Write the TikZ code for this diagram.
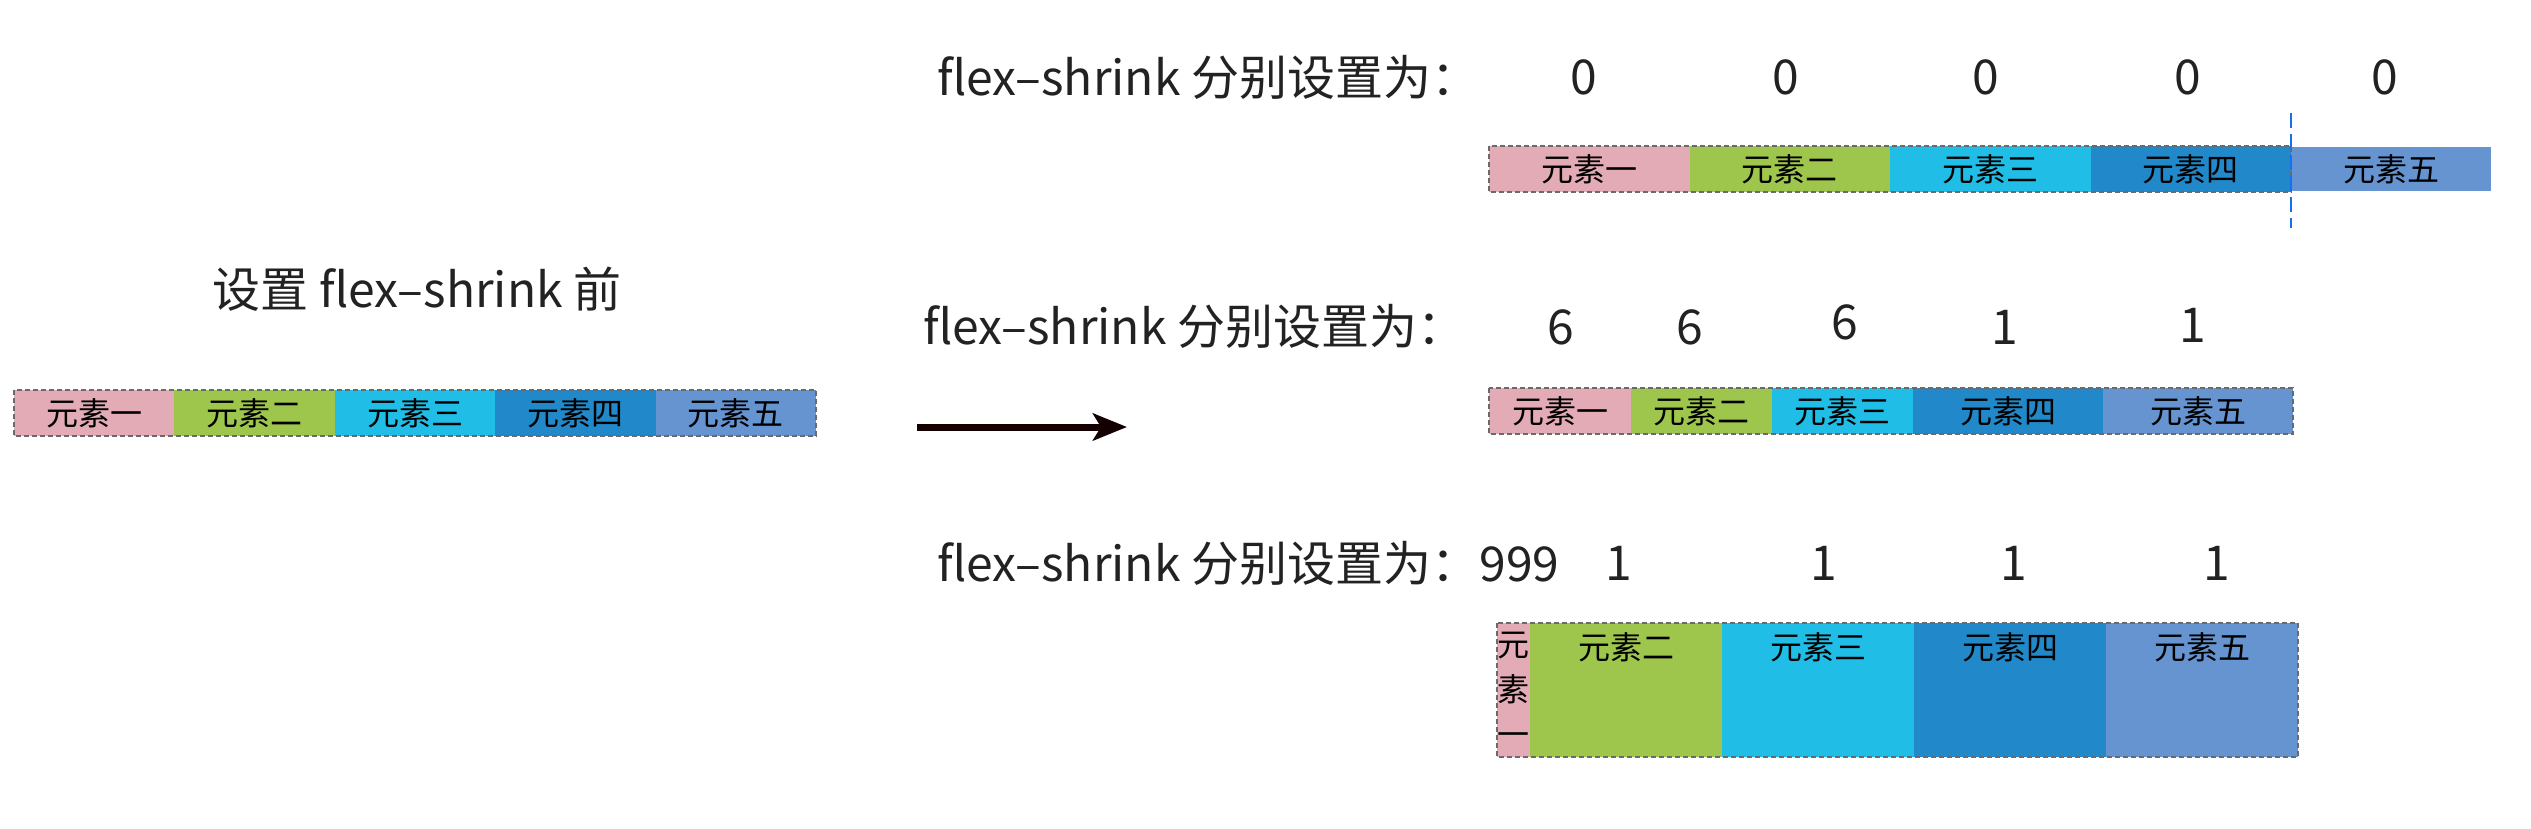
\documentclass[tikz,border=0pt]{standalone}
\usepackage{fontspec}
\setmainfont{Noto Sans CJK SC}
\usetikzlibrary{arrows.meta}
\definecolor{cA}{HTML}{E2ABB5}
\definecolor{cB}{HTML}{9EC54C}
\definecolor{cC}{HTML}{20BEE6}
\definecolor{cD}{HTML}{2189C9}
\definecolor{cE}{HTML}{6594D1}
\definecolor{boxgray}{HTML}{6A6A6A}
\definecolor{labtext}{HTML}{222222}
\definecolor{guide}{HTML}{1670EE}
\definecolor{arrowc}{HTML}{140000}
\tikzset{
  cellbox/.style={inner sep=0pt, outer sep=0pt, minimum height=46pt, font=\fontsize{32}{43}\selectfont, text=black},
  celltext/.style={inner sep=0pt, outer sep=0pt, font=\fontsize{32}{45}\selectfont, text=black, align=center},
  lab/.style={inner sep=0pt, outer sep=0pt, font=\fontsize{48}{57}\selectfont, text=labtext},
  num/.style={inner sep=0pt, outer sep=0pt, font=\fontsize{48}{57}\selectfont, text=labtext},
  dashbox/.style={draw=boxgray, line width=2.5pt, dash pattern=on 5pt off 3pt},
  bigarrow/.style={draw=arrowc, line width=7pt, -{Stealth[length=34pt, width=27pt, inset=8pt]}},
  guideline/.style={draw=guide, line width=2.2pt, dash pattern=on 15pt off 6pt},
}
\begin{document}
\begin{tikzpicture}[x=1pt, y=-1pt]
\path[use as bounding box, fill=white] (0,0) rectangle (2531,828);

% ---------- left: before ----------
\node[lab] (title) at (417,289) {设置 flex–shrink 前};
\node[cellbox, fill=cA, minimum width=160.4pt] (l1) at (94.2,413) {元素一};
\node[cellbox, fill=cB, minimum width=160.4pt] (l2) at (254.6,413) {元素二};
\node[cellbox, fill=cC, minimum width=160.4pt] (l3) at (415.0,413) {元素三};
\node[cellbox, fill=cD, minimum width=160.4pt] (l4) at (575.4,413) {元素四};
\node[cellbox, fill=cE, minimum width=160.4pt] (l5) at (735.8,413) {元素五};
\draw[dashbox] (l1.north west) rectangle (l5.south east);

% ---------- arrow ----------
\coordinate (arrS) at (917,427);
\coordinate (arrE) at (1127,427);
\draw[bigarrow] (arrS) -- (arrE);

% ---------- row 1: 0 0 0 0 0 ----------
\node[lab, anchor=west] (lab1) at (937,77) {flex–shrink 分别设置为：};
\node[num] (n11) at (1584,77) {0};
\node[num] (n12) at (1786,77) {0};
\node[num] (n13) at (1986,77) {0};
\node[num] (n14) at (2188,77) {0};
\node[num] (n15) at (2385,77) {0};
\node[cellbox, fill=cA, minimum width=200.5pt] (t1) at (1589.25,169) {元素一};
\node[cellbox, fill=cB, minimum width=200.5pt] (t2) at (1789.75,169) {元素二};
\node[cellbox, fill=cC, minimum width=200.5pt] (t3) at (1990.25,169) {元素三};
\node[cellbox, fill=cD, minimum width=200.5pt] (t4) at (2190.75,169) {元素四};
\node[cellbox, fill=cE, minimum width=200pt, minimum height=44pt] (t5) at (2391,169) {元素五};
\draw[dashbox] (t1.north west) rectangle (t4.south east);
\coordinate (g1) at (2291,113);
\coordinate (g2) at (2291,228);
\draw[guideline] (g1) -- (g2);

% ---------- row 2: 6 6 6 1 1 ----------
\node[lab, anchor=west] (lab2) at (923,326) {flex–shrink 分别设置为：};
\node[num] (n21) at (1561,327) {6};
\node[num] (n22) at (1690,327) {6};
\node[num] (n23) at (1845,322) {6};
\node[num] (n24) at (2005,327) {1};
\node[num] (n25) at (2193,325) {1};
\node[cellbox, fill=cA, minimum width=142pt] (m1) at (1560,411) {元素一};
\node[cellbox, fill=cB, minimum width=141pt] (m2) at (1701.5,411) {元素二};
\node[cellbox, fill=cC, minimum width=141pt] (m3) at (1842.5,411) {元素三};
\node[cellbox, fill=cD, minimum width=190pt] (m4) at (2008,411) {元素四};
\node[cellbox, fill=cE, minimum width=190pt] (m5) at (2198,411) {元素五};
\draw[dashbox] (m1.north west) rectangle (m5.south east);

% ---------- row 3: 999 1 1 1 1 ----------
\node[lab, anchor=west] (lab3) at (937,563) {flex–shrink 分别设置为：999};
\node[num] (n32) at (1619,563) {1};
\node[num] (n33) at (1824,563) {1};
\node[num] (n34) at (2014,563) {1};
\node[num] (n35) at (2217,563) {1};
\node[cellbox, fill=cA, minimum width=33pt, minimum height=134pt] (b1) at (1513.5,690) {};
\node[cellbox, fill=cB, minimum width=192pt, minimum height=134pt] (b2) at (1626,690) {};
\node[cellbox, fill=cC, minimum width=192pt, minimum height=134pt] (b3) at (1818,690) {};
\node[cellbox, fill=cD, minimum width=192pt, minimum height=134pt] (b4) at (2010,690) {};
\node[cellbox, fill=cE, minimum width=192pt, minimum height=134pt] (b5) at (2202,690) {};
\node[celltext] (b1t) at ([yshift=1pt]b1.center) {元\\素\\一};
\node[celltext] (b2t) at ([yshift=-24pt]b2.north) {元素二};
\node[celltext] (b3t) at ([yshift=-24pt]b3.north) {元素三};
\node[celltext] (b4t) at ([yshift=-24pt]b4.north) {元素四};
\node[celltext] (b5t) at ([yshift=-24pt]b5.north) {元素五};
\draw[dashbox] (b1.north west) rectangle (b5.south east);
\end{tikzpicture}
\end{document}
